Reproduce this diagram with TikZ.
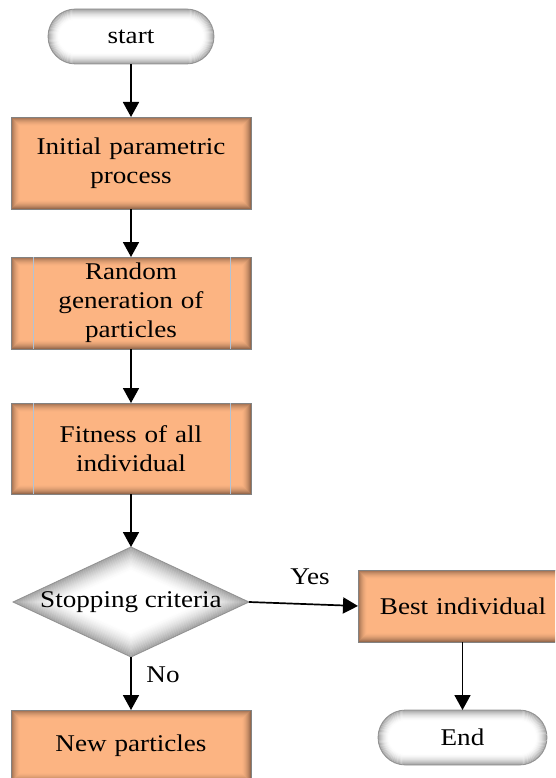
\documentclass[tikz,border=0pt]{standalone}
\usepackage{fontspec}
\setmainfont{Liberation Serif}[FakeStretch=1.13]
\usetikzlibrary{arrows.meta,shapes.misc,shapes.geometric}
\definecolor{boxfill}{RGB}{252,180,130}
\definecolor{boxedge}{RGB}{120,82,60}
\definecolor{boxline}{RGB}{130,130,130}
\definecolor{termedge}{RGB}{120,120,120}
\definecolor{predefline}{RGB}{175,195,215}
\tikzset{
  txt/.style={font=\fontsize{24pt}{29pt}\selectfont},
  procbox/.style={rectangle, txt, draw=boxline, line width=0.8pt, fill=boxfill,
    minimum width=240pt, minimum height=92pt, inner sep=0pt, outer sep=0pt,
    align=center, text width=225pt,
    path picture={
      \foreach \i in {0,...,9}{
        \pgfmathtruncatemacro\pct{75*(1-\i/10)^2}
        \pgfmathsetmacro\dd{\i+0.5}
        \draw[line width=1.1pt, draw=boxedge!\pct!boxfill]
          ([shift={(\dd pt,\dd pt)}]path picture bounding box.south west)
          rectangle ([shift={(-\dd pt,-\dd pt)}]path picture bounding box.north east);
      }
    }},
  term/.style={rounded rectangle, txt, draw=termedge!80, line width=0.8pt, fill=white,
    minimum width=166pt, minimum height=55pt, inner sep=0pt, outer sep=0pt,
    path picture={
      \foreach \i in {0,...,11}{
        \pgfmathtruncatemacro\pct{70*(1-\i/12)^2}
        \pgfmathsetmacro\dd{\i+0.5}
        \pgfmathsetmacro\rr{27.5-\dd}
        \draw[line width=1.1pt, draw=termedge!\pct!white, rounded corners=\rr pt]
          ([shift={(\dd pt,\dd pt)}]path picture bounding box.south west)
          rectangle ([shift={(-\dd pt,-\dd pt)}]path picture bounding box.north east);
      }
    }},
  decision/.style={diamond, txt, draw=termedge!80, line width=0.8pt, fill=white,
    minimum width=236pt, minimum height=110pt, inner sep=0pt, outer sep=0pt, aspect=2.15,
    path picture={
      \foreach \i in {0,...,20}{
        \pgfmathtruncatemacro\pct{70*(1-\i/21)^1.6}
        \pgfmathsetmacro\aa{118-2.37*(\i+0.5)}
        \pgfmathsetmacro\bb{55-1.18*(\i+0.5)}
        \draw[line width=1.3pt, draw=termedge!\pct!white]
          ([shift={(0pt,\bb pt)}]path picture bounding box.center) --
          ([shift={(\aa pt,0pt)}]path picture bounding box.center) --
          ([shift={(0pt,-\bb pt)}]path picture bounding box.center) --
          ([shift={(-\aa pt,0pt)}]path picture bounding box.center) -- cycle;
      }
    }},
  lbl/.style={txt, inner sep=0pt},
  arr/.style={line width=1.7pt, -{Triangle[width=16pt,length=15pt]}},
  predef/.style={predefline, line width=0.6pt}
}
\begin{document}
\begin{tikzpicture}[x=1pt, y=-1pt]
\path[use as bounding box] (0,0) rectangle (555,778);
\clip (0,0) rectangle (555,778);
\node[term] (start) at (131,36.5) {start};
\node[procbox] (b1) at (131,163) {Initial parametric\\process};
\node[procbox] (b2) at (131,303) {Random\\generation of\\particles};
\node[procbox, minimum height=91pt] (b3) at (131,448.5) {Fitness of all\\individual};
\node[decision] (dec) at (131,602) {Stopping criteria};
\node[procbox, minimum height=72pt] (np) at (131,746) {New particles};
\node[procbox, minimum width=210pt, minimum height=72pt, text width=200pt] (best) at (463,606) {Best individual};
\node[term, minimum width=169pt] (end) at (462.5,737.5) {End};
\node[lbl] (yes) at (310,577) {Yes};
\node[lbl] (no) at (163,675) {No};
\draw[predef] ([xshift=22pt]b2.north west) -- ([xshift=22pt]b2.south west);
\draw[predef] ([xshift=-21pt]b2.north east) -- ([xshift=-21pt]b2.south east);
\draw[predef] ([xshift=22pt]b3.north west) -- ([xshift=22pt]b3.south west);
\draw[predef] ([xshift=-21pt]b3.north east) -- ([xshift=-21pt]b3.south east);
\draw[arr] (start) -- (b1);
\draw[arr] (b1) -- (b2);
\draw[arr] (b2) -- (b3);
\draw[arr] (b3) -- (dec);
\draw[arr] (dec) -- (np);
\draw[arr] (dec.east) -- (best.west);
\draw[arr] (best.south -| end.north) -- (end.north);
\end{tikzpicture}
\end{document}
